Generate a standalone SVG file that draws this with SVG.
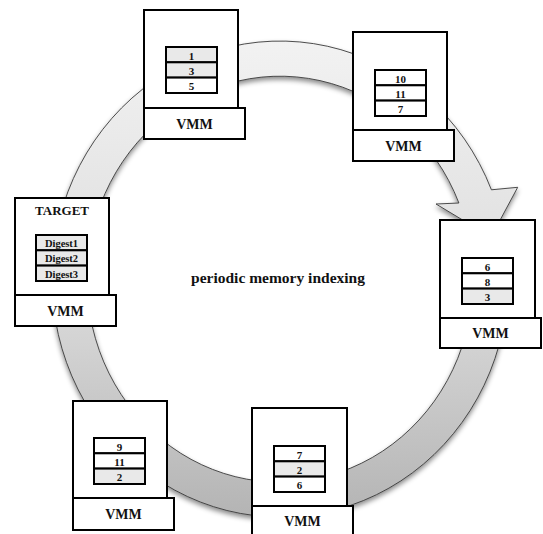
<svg xmlns="http://www.w3.org/2000/svg" width="543" height="534" viewBox="0 0 543 534">
<defs>
<linearGradient id="ringGrad" x1="0" y1="0" x2="0" y2="1">
<stop offset="0" stop-color="#f2f2f2"/>
<stop offset="0.5" stop-color="#dedede"/>
<stop offset="1" stop-color="#b4b4b4"/>
</linearGradient>
<filter id="shadow" x="-10%" y="-10%" width="120%" height="120%">
<feDropShadow dx="0" dy="3" stdDeviation="2.5" flood-color="#000" flood-opacity="0.45"/>
</filter>
</defs>
<style>
.box{fill:#fff;stroke:#000;stroke-width:2}
.row{stroke:#000;stroke-width:2}
.w{fill:#fff}
.g{fill:#e9e9e9}
text{font-family:"Liberation Serif","Times New Roman",serif;font-weight:bold;fill:#111;text-anchor:middle}
.vmm{font-size:14px}
.num{font-size:11px}
.dig{font-size:10.5px}
.title{font-size:13px}
.center{font-size:15.5px}
</style>
<rect width="543" height="534" fill="#fff"/>
<g id="connectors">
<path filter="url(#shadow)" fill="url(#ringGrad)" stroke="#3a3a3a" stroke-width="0.9" d="M507.9 287.3 A228 238 0 1 1 491.4 189.8 L517.7 187.3 L491 237 L436 204 L458.9 203 A193 203 0 1 0 472.9 286.1 Z"/>
</g>
<text class="center" x="278" y="283">periodic memory indexing</text>
<g id="node1" transform="translate(144,10)">
<rect class="box" x="0" y="0" width="94" height="98"/>
<rect class="box" x="0" y="98" width="101" height="31"/>
<rect class="row g" x="22" y="37" width="51" height="15.3"/>
<rect class="row g" x="22" y="52.3" width="51" height="15.3"/>
<rect class="row w" x="22" y="67.6" width="51" height="15.4"/>
<text class="num" x="47.5" y="49.5">1</text>
<text class="num" x="47.5" y="64.8">3</text>
<text class="num" x="47.5" y="80.2">5</text>
<text class="vmm" x="50.5" y="118.5">VMM</text>
</g>
<g id="node2" transform="translate(353,32)">
<rect class="box" x="0" y="0" width="94" height="98"/>
<rect class="box" x="0" y="98" width="101" height="31"/>
<rect class="row w" x="22" y="38" width="51" height="15.3"/>
<rect class="row w" x="22" y="53.3" width="51" height="15.3"/>
<rect class="row w" x="22" y="68.6" width="51" height="15.4"/>
<text class="num" x="47.5" y="50.5">10</text>
<text class="num" x="47.5" y="65.8">11</text>
<text class="num" x="47.5" y="81.2">7</text>
<text class="vmm" x="50.5" y="118.5">VMM</text>
</g>
<g id="node3" transform="translate(440,220)">
<rect class="box" x="0" y="0" width="95" height="98"/>
<rect class="box" x="0" y="98" width="101" height="30"/>
<rect class="row w" x="22" y="38" width="51" height="15.3"/>
<rect class="row w" x="22" y="53.3" width="51" height="15.3"/>
<rect class="row g" x="22" y="68.6" width="51" height="15.4"/>
<text class="num" x="47.5" y="50.5">6</text>
<text class="num" x="47.5" y="65.8">8</text>
<text class="num" x="47.5" y="81.2">3</text>
<text class="vmm" x="50.5" y="118">VMM</text>
</g>
<g id="node4" transform="translate(15,198)">
<rect class="box" x="0" y="0" width="94" height="97"/>
<rect class="box" x="0" y="97" width="101" height="31"/>
<text class="title" x="47" y="17">TARGET</text>
<rect class="row g" x="21" y="37" width="51" height="15.3"/>
<rect class="row g" x="21" y="52.3" width="51" height="15.3"/>
<rect class="row g" x="21" y="67.6" width="51" height="15.4"/>
<text class="dig" x="46.5" y="48.8">Digest1</text>
<text class="dig" x="46.5" y="64.1">Digest2</text>
<text class="dig" x="46.5" y="79.5">Digest3</text>
<text class="vmm" x="50.5" y="117.5">VMM</text>
</g>
<g id="node5" transform="translate(73,401)">
<rect class="box" x="0" y="0" width="94" height="97"/>
<rect class="box" x="0" y="97" width="101" height="32"/>
<rect class="row w" x="21" y="37" width="51" height="15.3"/>
<rect class="row w" x="21" y="52.3" width="51" height="15.3"/>
<rect class="row g" x="21" y="67.6" width="51" height="15.4"/>
<text class="num" x="46.5" y="49.5">9</text>
<text class="num" x="46.5" y="64.8">11</text>
<text class="num" x="46.5" y="80.2">2</text>
<text class="vmm" x="50.5" y="118">VMM</text>
</g>
<g id="node6" transform="translate(252,408)">
<rect class="box" x="0" y="0" width="95" height="98"/>
<rect class="box" x="0" y="98" width="101" height="31"/>
<rect class="row w" x="22" y="38" width="51" height="15.3"/>
<rect class="row g" x="22" y="53.3" width="51" height="15.3"/>
<rect class="row w" x="22" y="68.6" width="51" height="15.4"/>
<text class="num" x="47.5" y="50.5">7</text>
<text class="num" x="47.5" y="65.8">2</text>
<text class="num" x="47.5" y="81.2">6</text>
<text class="vmm" x="50.5" y="118">VMM</text>
</g>
</svg>
